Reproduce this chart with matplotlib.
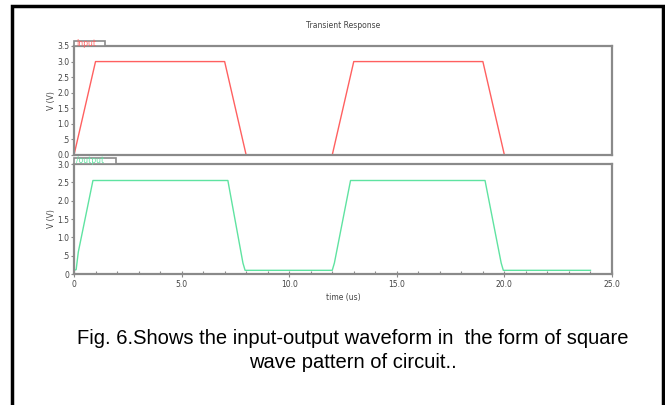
import matplotlib.pyplot as plt
from matplotlib.patches import Rectangle
from matplotlib.ticker import FixedLocator, MultipleLocator

# input waveform (V vs us)
in_t = [0, 1.0, 7.0, 8.0, 12.0, 13.0, 19.0, 20.0, 24.0]
in_v = [0, 3.0, 3.0, 0, 0, 3.0, 3.0, 0, 0]

# output waveform
out_t = [0, 0.1, 0.2, 0.88, 7.15, 7.85, 7.95, 12.0, 12.1, 12.85, 19.1, 19.85, 19.95, 24.0]
out_v = [0.1, 0.12, 0.6, 2.55, 2.55, 0.3, 0.1, 0.1, 0.3, 2.55, 2.55, 0.3, 0.1, 0.1]

x_ticks = [0, 5, 10, 15, 20, 25]
x_labels = ["0", "5.0", "10.0", "15.0", "20.0", "25.0"]
top_yticks = [0, 0.5, 1.0, 1.5, 2.0, 2.5, 3.0, 3.5]
top_ylabels = ["0.0", ".5", "1.0", "1.5", "2.0", "2.5", "3.0", "3.5"]
bot_yticks = [0, 0.5, 1.0, 1.5, 2.0, 2.5, 3.0]
bot_ylabels = ["0", ".5", "1.0", "1.5", "2.0", "2.5", "3.0"]

caption_lines = ["Fig. 6.Shows the input-output waveform in  the form of square",
                 "wave pattern of circuit.."]

W, H = 665, 405
GRAY = "#8a8a8a"
TXT = "#444444"


def px_axes(fig, x0, y0, x1, y1):
    return fig.add_axes([x0 / W, 1 - y1 / H, (x1 - x0) / W, (y1 - y0) / H])


def style_axes(ax, yticks, ylabels):
    for s in ax.spines.values():
        s.set_color(GRAY)
        s.set_linewidth(1.6)
    ax.set_xlim(0, 25)
    ax.set_yticks(yticks)
    ax.set_yticklabels(ylabels)
    ax.tick_params(axis="y", direction="out", length=2.5, width=0.8, color=GRAY,
                   labelsize=5.5, labelcolor=TXT, pad=1)
    ax.set_ylabel("V (V)", fontsize=5.5, color=TXT, labelpad=1)


def add_tab(fig, x0, y0, x1, y1, text, color):
    fig.patches.append(Rectangle((x0 / W, 1 - y1 / H), (x1 - x0) / W, (y1 - y0) / H,
                                 transform=fig.transFigure, facecolor="white",
                                 edgecolor=GRAY, linewidth=1.2, zorder=5))
    fig.text((x0 + 2) / W, 1 - (y0 + y1) / 2 / H, text, color=color, fontsize=5.5,
             va="center", ha="left", zorder=6)


fig = plt.figure(figsize=(W / 100, H / 100), dpi=100)

# outer frame
fig.patches.append(Rectangle((12 / W, -0.05), 651 / W, 1.05 - 6 / H,
                             transform=fig.transFigure, fill=False,
                             edgecolor="black", linewidth=2.5))

ax1 = px_axes(fig, 74, 46, 612, 155)
ax1.plot(in_t, in_v, color="#ff6060", linewidth=1.0)
ax1.set_ylim(0, 3.5)
style_axes(ax1, top_yticks, top_ylabels)
ax1.set_xticks([])

ax2 = px_axes(fig, 74, 164, 612, 274)
ax2.plot(out_t, out_v, color="#5fe3a1", linewidth=1.0)
ax2.set_ylim(0, 3.0)
style_axes(ax2, bot_yticks, bot_ylabels)
ax2.xaxis.set_major_locator(FixedLocator(x_ticks))
ax2.set_xticklabels(x_labels)
ax2.xaxis.set_minor_locator(MultipleLocator(1))
ax2.tick_params(axis="x", which="major", direction="inout", length=4, width=0.8,
                color=GRAY, labelsize=5.5, labelcolor=TXT, pad=2)
ax2.tick_params(axis="x", which="minor", direction="in", length=2, width=0.8, color=GRAY)
ax2.set_xlabel("time (us)", fontsize=5.5, color=TXT, labelpad=3)

add_tab(fig, 74, 41, 105, 46, "Input", "#ff6060")
add_tab(fig, 74, 158, 116, 164, "/output", "#5fe3a1")

fig.text(343 / W, 1 - 26 / H, "Transient Response", fontsize=5.5, color=TXT,
         ha="center", va="center")

for i, line in enumerate(caption_lines):
    fig.text(353 / W, 1 - (344 + 24 * i) / H, line, fontsize=14.5,
             family="Liberation Sans", ha="center", va="baseline")

fig.savefig("out.png", dpi=100)
